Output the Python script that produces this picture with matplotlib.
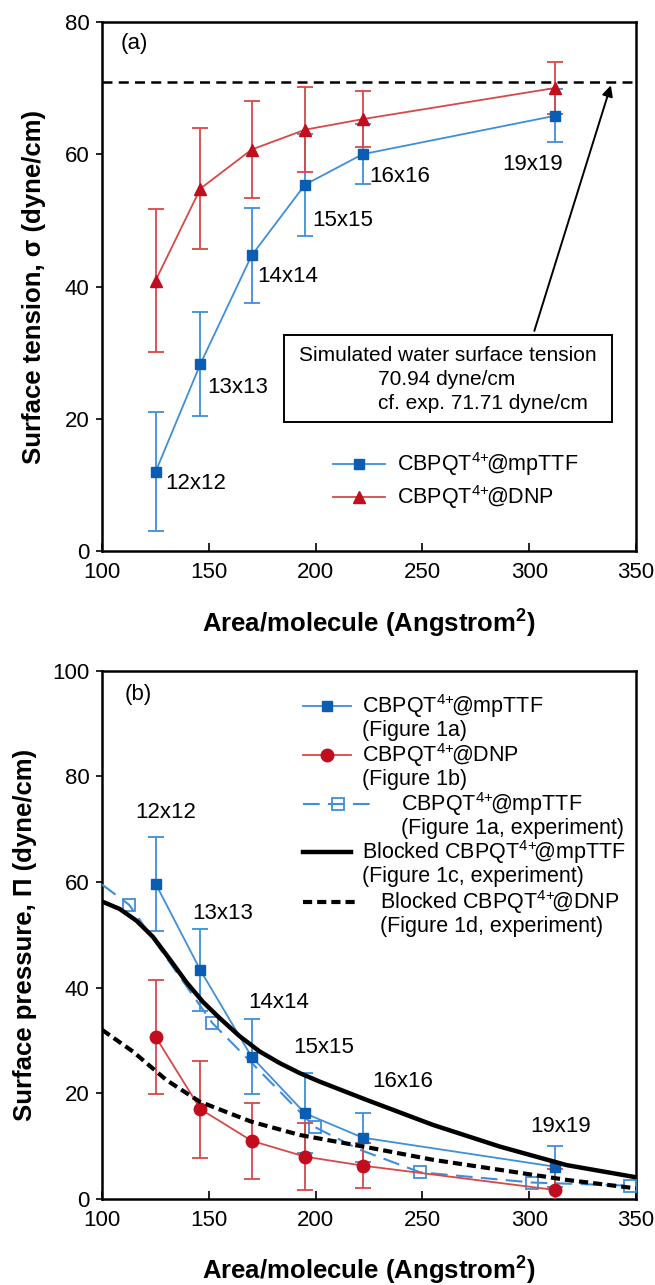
import matplotlib
matplotlib.use('Agg')
import matplotlib.pyplot as plt
from matplotlib.patches import Rectangle

plt.rcParams['font.family'] = ['Liberation Sans', 'DejaVu Sans']
plt.rcParams['mathtext.fontset'] = 'custom'
plt.rcParams['mathtext.rm'] = 'Liberation Sans'
plt.rcParams['mathtext.it'] = 'Liberation Sans:italic'
plt.rcParams['mathtext.bf'] = 'Liberation Sans:bold'

# ---- data ----
area_sim = [125, 146, 170, 195, 222, 312]
box_labels = ['12x12', '13x13', '14x14', '15x15', '16x16', '19x19']

sigma_mp = [12.0, 28.3, 44.7, 55.4, 60.0, 65.8]
sigma_mp_err = [9.0, 7.8, 7.2, 7.7, 4.5, 4.0]
sigma_dnp = [40.9, 54.8, 60.7, 63.7, 65.3, 70.0]
sigma_dnp_err = [10.8, 9.1, 7.3, 6.4, 4.2, 3.9]
water_sigma = 70.94

pi_mp = [59.7, 43.3, 26.9, 16.2, 11.6, 6.1]
pi_mp_err = [8.9, 7.8, 7.1, 7.6, 4.7, 3.9]
pi_dnp = [30.7, 17.0, 11.0, 8.0, 6.3, 1.7]
pi_dnp_err = [10.8, 9.2, 7.2, 6.4, 4.2, 3.9]

exp_mp_area = [100, 112.6, 151.6, 199.6, 220.7, 248.8, 301.4, 347.2]
exp_mp_pi = [59.5, 55.7, 33.3, 13.6, 9.3, 5.05, 3.1, 2.5]
exp_mp_marked = [1, 2, 3, 5, 6, 7]

blocked_mp_area = [100, 108.2, 116, 123.8, 131.6, 139.5, 147.2, 155.1, 164.4, 173.8,
                   183.2, 192.6, 201.9, 223.8, 255, 286.3, 317.5, 350]
blocked_mp_pi = [56.3, 54.9, 52.7, 49.6, 45.4, 41.0, 37.3, 34.2, 30.8, 27.9,
                 25.7, 23.8, 22.2, 18.75, 14.0, 9.9, 6.4, 4.1]

blocked_dnp_area = [100, 114.4, 130.1, 145.7, 170, 192.6, 223.8, 255, 286.3, 317.5, 350]
blocked_dnp_pi = [32.0, 27.9, 22.5, 18.4, 14.6, 12.1, 9.8, 7.4, 5.5, 3.6, 2.0]

# label positions (data coords)
lab_a_x = [129.4, 149.4, 172.5, 198.6, 224.9, 287.3]
lab_a_y = [10.3, 24.8, 41.5, 50.0, 56.7, 58.5]
lab_b_x = [115.7, 142.2, 168.6, 189.6, 226.5, 300.6]
lab_b_y = [73.2, 54.1, 37.2, 28.7, 22.3, 13.8]

BLUE_L = '#3f8fd8'
BLUE_M = '#0b5db3'
RED_L = '#d84848'
RED_M = '#c10e1f'

MP = r'CBPQT$^{4{+}}\!$@mpTTF'
DNP = r'CBPQT$^{4{+}}\!$@DNP'

FS = 15.5


def style_axes(ax, ymax):
    ax.set_xlim(100, 350)
    ax.set_ylim(0, ymax)
    ax.set_xticks(range(100, 351, 50))
    ax.set_yticks(range(0, ymax + 1, 20))
    for s in ax.spines.values():
        s.set_linewidth(1.8)
    ax.tick_params(axis='x', direction='in', length=6, width=1.2, labelsize=16, pad=8)
    ax.tick_params(axis='y', direction='out', length=4, width=1.2, labelsize=16, pad=5)
    ax.set_xlabel(r'Area/molecule (Angstrom$^{\mathbf{2}}$)', fontsize=18.5, fontweight='bold')
    ax.xaxis.set_label_coords(0.5, -0.137)
    ax.xaxis.label.set_va('center')
    ax.yaxis.label.set_va('center')


def legend_entry(ax, y, x0, x1, xt, lines, marker=None, mkw=None, **kw):
    ax.plot([x0, x1], [y, y], transform=ax.transAxes, clip_on=False, **kw)
    if marker:
        ax.plot([(x0 + x1) / 2], [y], transform=ax.transAxes, clip_on=False,
                ls='none', marker=marker, **mkw)
    for i, t in enumerate(lines):
        ax.text(xt, y - i * 0.047, t, transform=ax.transAxes, fontsize=FS, va='center', ha='left')


fig = plt.figure(figsize=(6.55, 12.85), dpi=100)
ax1 = fig.add_axes([0.156, 0.571, 0.815, 0.412])
ax2 = fig.add_axes([0.156, 0.067, 0.815, 0.411])

mp_mk = dict(ms=7.5, mfc=BLUE_M, mec=BLUE_M)
dnp_tri = dict(ms=8.5, mfc=RED_M, mec=RED_M)
dnp_dot = dict(ms=9, mfc=RED_M, mec=RED_M)
exp_mk = dict(ms=8, mfc='none', mec=BLUE_L, mew=1.3)
eb = dict(lw=1.3, elinewidth=1.3, capsize=5.5, capthick=1.3, zorder=3)

# ---------- (a) ----------
ax1.errorbar(area_sim, sigma_mp, yerr=sigma_mp_err, color=BLUE_L, marker='s', **mp_mk, **eb)
ax1.errorbar(area_sim, sigma_dnp, yerr=sigma_dnp_err, color=RED_L, marker='^', **dnp_tri, **eb)
ax1.axhline(water_sigma, color='black', lw=1.8, ls=(0, (4, 2.5)), zorder=2)
ax1.annotate('', xy=(338.6, 70.8), xytext=(302, 32.9),
             arrowprops=dict(arrowstyle='-|>', color='black', lw=1.4, mutation_scale=16))
ax1.add_patch(Rectangle((185.3, 19.5), 153.3, 13.2, fill=False, lw=1.4, ec='black', zorder=4))
ax1.text(192, 29.65, 'Simulated water surface tension', fontsize=15, va='center')
ax1.text(229.4, 25.9, '70.94 dyne/cm', fontsize=15, va='center')
ax1.text(229.4, 22.3, 'cf. exp. 71.71 dyne/cm', fontsize=15, va='center')
for x, y, t in zip(lab_a_x, lab_a_y, box_labels):
    ax1.text(x, y, t, fontsize=16, va='center', ha='left')
ax1.text(108.8, 76.8, '(a)', fontsize=16, va='center')
style_axes(ax1, 80)
ax1.set_ylabel(r'Surface tension, σ (dyne/cm)', fontsize=18.5, fontweight='bold')
ax1.yaxis.set_label_coords(-0.127, 0.5)
legend_entry(ax1, 0.164, 0.432, 0.530, 0.552, [MP], marker='s', mkw=mp_mk, color=BLUE_L, lw=1.3)
legend_entry(ax1, 0.102, 0.432, 0.530, 0.552, [DNP], marker='^', mkw=dnp_tri, color=RED_L, lw=1.3)

# ---------- (b) ----------
ax2.plot(exp_mp_area, exp_mp_pi, color=BLUE_L, lw=1.5, ls=(0, (8, 4)), marker='s',
         markevery=exp_mp_marked, zorder=3, **exp_mk)
ax2.errorbar(area_sim, pi_mp, yerr=pi_mp_err, color=BLUE_L, marker='s', **mp_mk, **eb)
ax2.errorbar(area_sim, pi_dnp, yerr=pi_dnp_err, color=RED_L, marker='o', **dnp_dot, **eb)
ax2.plot(blocked_mp_area, blocked_mp_pi, color='black', lw=3.2, zorder=4)
ax2.plot(blocked_dnp_area, blocked_dnp_pi, color='black', lw=3.0, ls=(0, (2.2, 1.2)), zorder=4)
for x, y, t in zip(lab_b_x, lab_b_y, box_labels):
    ax2.text(x, y, t, fontsize=16, va='center', ha='left')
ax2.text(110.4, 95.5, '(b)', fontsize=16, va='center')
style_axes(ax2, 100)
ax2.set_ylabel(r'Surface pressure, Π (dyne/cm)', fontsize=18.5, fontweight='bold')
ax2.yaxis.set_label_coords(-0.145, 0.5)

legend_entry(ax2, 0.934, 0.376, 0.466, 0.486, [MP, '(Figure 1a)'],
             marker='s', mkw=mp_mk, color=BLUE_L, lw=1.3)
legend_entry(ax2, 0.841, 0.376, 0.466, 0.486, [DNP, '(Figure 1b)'],
             marker='o', mkw=dnp_dot, color=RED_L, lw=1.3)
legend_entry(ax2, 0.748, 0.376, 0.509, 0.560, [MP, '(Figure 1a, experiment)'],
             marker='s', mkw=exp_mk, color=BLUE_L, lw=1.5, ls=(0, (8, 4)))
legend_entry(ax2, 0.657, 0.376, 0.466, 0.486, ['Blocked ' + MP, '(Figure 1c, experiment)'],
             color='black', lw=3.2)
legend_entry(ax2, 0.563, 0.376, 0.479, 0.520, ['Blocked ' + DNP, '(Figure 1d, experiment)'],
             color='black', lw=3.0, ls=(0, (2.2, 1.2)))

fig.savefig('out.png', dpi=100)
